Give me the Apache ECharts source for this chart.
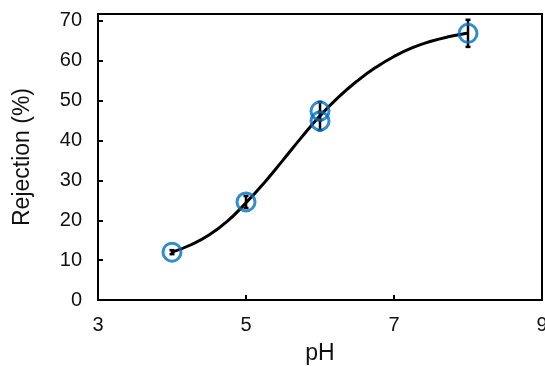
<!DOCTYPE html>
<html>
<head>
<meta charset="utf-8">
<script src="https://cdn.jsdelivr.net/npm/echarts@6/dist/echarts.min.js"></script>
<style>
html,body{margin:0;padding:0;background:#fff;}
#chart{width:545px;height:366px;}
</style>
</head>
<body>
<div id="chart"></div>
<script>
// measured points
var phValues = [4, 5, 6, 6, 8];
var rejection = [12.0, 24.6, 47.4, 44.9, 66.9];
var rejectionErr = [0.5, 1.5, 2.3, 2.3, 3.4];

// fitted curve
var curvePh = [4, 4.25, 4.5, 4.75, 5, 5.25, 5.5, 5.75, 6, 6.25, 6.5, 6.75, 7, 7.25, 7.5, 7.75, 8];
var curveRej = [12.0, 13.8, 16.3, 19.8, 24.4, 29.5, 35.1, 40.8, 46.2, 50.9, 54.9, 58.3, 61.1, 63.3, 64.9, 66.1, 67.0];

var xTicks = [3, 5, 7, 9];
var yTicks = [0, 10, 20, 30, 40, 50, 60, 70];

var points = phValues.map(function (x, i) { return [x, rejection[i]]; });
var errData = phValues.map(function (x, i) {
  return [x, rejection[i] - rejectionErr[i], rejection[i] + rejectionErr[i]];
});
var curve = curvePh.map(function (x, i) { return [x, curveRej[i]]; });

var font = 'Liberation Sans, Arial, sans-serif';
var myChart = echarts.init(document.getElementById('chart'));
var option = {
  animation: false,
  grid: {
    left: 98, right: 3, top: 14, bottom: 66,
    show: true, borderColor: '#000', borderWidth: 2,
    containLabel: false, outerBoundsMode: 'none'
  },
  xAxis: {
    type: 'value', min: 3, max: 9, interval: 2,
    name: 'pH', nameLocation: 'middle', nameGap: 42,
    nameTextStyle: { fontSize: 23, color: '#111', fontFamily: font },
    axisLine: { show: true, onZero: false, lineStyle: { color: '#000', width: 2 } },
    axisTick: { show: true, inside: true, length: 5, lineStyle: { color: '#000', width: 2 } },
    axisLabel: {
      fontSize: 20, color: '#111', fontFamily: font, margin: 15,
      formatter: function (v) { return xTicks.indexOf(v) >= 0 ? String(v) : ''; }
    },
    splitLine: { show: false }
  },
  yAxis: {
    type: 'value', min: 0, max: 71.75, interval: 10,
    name: 'Rejection (%)', nameLocation: 'middle', nameGap: 64, nameRotate: 90,
    nameTextStyle: { fontSize: 23, color: '#111', fontFamily: font },
    axisLine: { show: true, lineStyle: { color: '#000', width: 2 } },
    axisTick: { show: true, inside: true, length: 5, lineStyle: { color: '#000', width: 2 } },
    axisLabel: {
      fontSize: 20, color: '#111', fontFamily: font, margin: 16, showMaxLabel: false,
      formatter: function (v) { return yTicks.indexOf(v) >= 0 ? String(v) : ''; }
    },
    splitLine: { show: false }
  },
  series: [
    {
      name: 'fit', type: 'line', data: curve, smooth: true,
      showSymbol: false, lineStyle: { color: '#000', width: 3 }, z: 2
    },
    {
      name: 'error', type: 'custom', data: errData, z: 3,
      renderItem: function (params, api) {
        var x = api.value(0);
        var lo = api.coord([x, api.value(1)]);
        var hi = api.coord([x, api.value(2)]);
        var cap = 2.5;
        var st = { stroke: '#000', lineWidth: 2.5 };
        return {
          type: 'group',
          children: [
            { type: 'line', shape: { x1: lo[0], y1: lo[1], x2: hi[0], y2: hi[1] }, style: st },
            { type: 'line', shape: { x1: lo[0] - cap, y1: lo[1], x2: lo[0] + cap, y2: lo[1] }, style: st },
            { type: 'line', shape: { x1: hi[0] - cap, y1: hi[1], x2: hi[0] + cap, y2: hi[1] }, style: st }
          ]
        };
      }
    },
    {
      name: 'Rejection', type: 'scatter', data: points, z: 4,
      symbol: 'circle', symbolSize: 18,
      itemStyle: { color: 'rgba(0,0,0,0)', borderColor: '#0070C0', borderWidth: 3 }
    }
  ]
};
myChart.setOption(option);
</script>
</body>
</html>
